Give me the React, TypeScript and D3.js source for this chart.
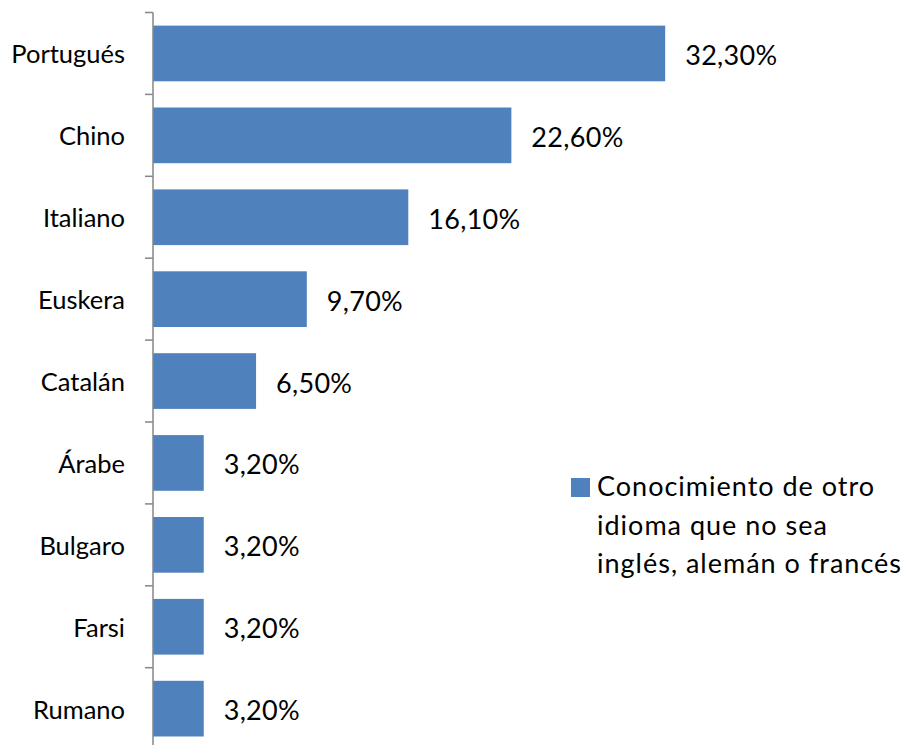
import React from "react";
import * as d3 from "d3";

const categories = ["Portugués", "Chino", "Italiano", "Euskera", "Catalán", "Árabe", "Bulgaro", "Farsi", "Rumano"];
const values = [32.3, 22.6, 16.1, 9.7, 6.5, 3.2, 3.2, 3.2, 3.2];
const legendLines = ["Conocimiento de otro", "idioma que no sea", "inglés, alemán o francés"];

const W = 911;
const H = 745;
const FONT = "Lato, 'Open Sans', sans-serif";
const BAR = "#4F81BD";

export default function App() {
  const x = d3.scaleLinear().domain([0, 35]).range([153, 708]);
  const y = d3.scaleBand<string>().domain(categories).range([12.5, 749.6]).paddingInner(0.32).paddingOuter(0.16);
  const step = y.step();
  const tickYs = categories.map((c) => (y(c) as number) - (step * y.paddingInner()) / 2);
  tickYs.push(y.range()[1]);
  const fmt = (v: number) => d3.format(".2f")(v).replace(".", ",") + "%";

  return (
    <svg width={W} height={H} style={{ position: "absolute", left: 0, top: 0, background: "#fff" }} fontFamily={FONT}>
      {categories.map((c, i) => (
        <rect key={c} x={x(0)} y={y(c)} width={x(values[i]) - x(0)} height={y.bandwidth()} fill={BAR} />
      ))}
      <line x1={x(0)} x2={x(0)} y1={12.5} y2={H} stroke="#868686" strokeWidth={1.5} />
      {tickYs.map((t, i) => (
        <line key={i} x1={x(0) - 8} x2={x(0)} y1={t} y2={t} stroke="#868686" strokeWidth={1.5} />
      ))}
      {categories.map((c) => (
        <text key={c} x={125} y={(y(c) as number) + y.bandwidth() / 2} textAnchor="end" dominantBaseline="central" fontSize={25.5} fill="#000">
          {c}
        </text>
      ))}
      {categories.map((c, i) => (
        <text key={c} x={x(values[i]) + 20} y={(y(c) as number) + y.bandwidth() / 2 + 1} dominantBaseline="central" fontSize={27} letterSpacing={0.3} fill="#000">
          {fmt(values[i])}
        </text>
      ))}
      <rect x={571} y={478} width={19} height={19} fill={BAR} />
      {legendLines.map((l, i) => (
        <text key={i} x={597} y={496 + i * 38.5} fontSize={27} letterSpacing={1} fill="#000">
          {l}
        </text>
      ))}
    </svg>
  );
}
